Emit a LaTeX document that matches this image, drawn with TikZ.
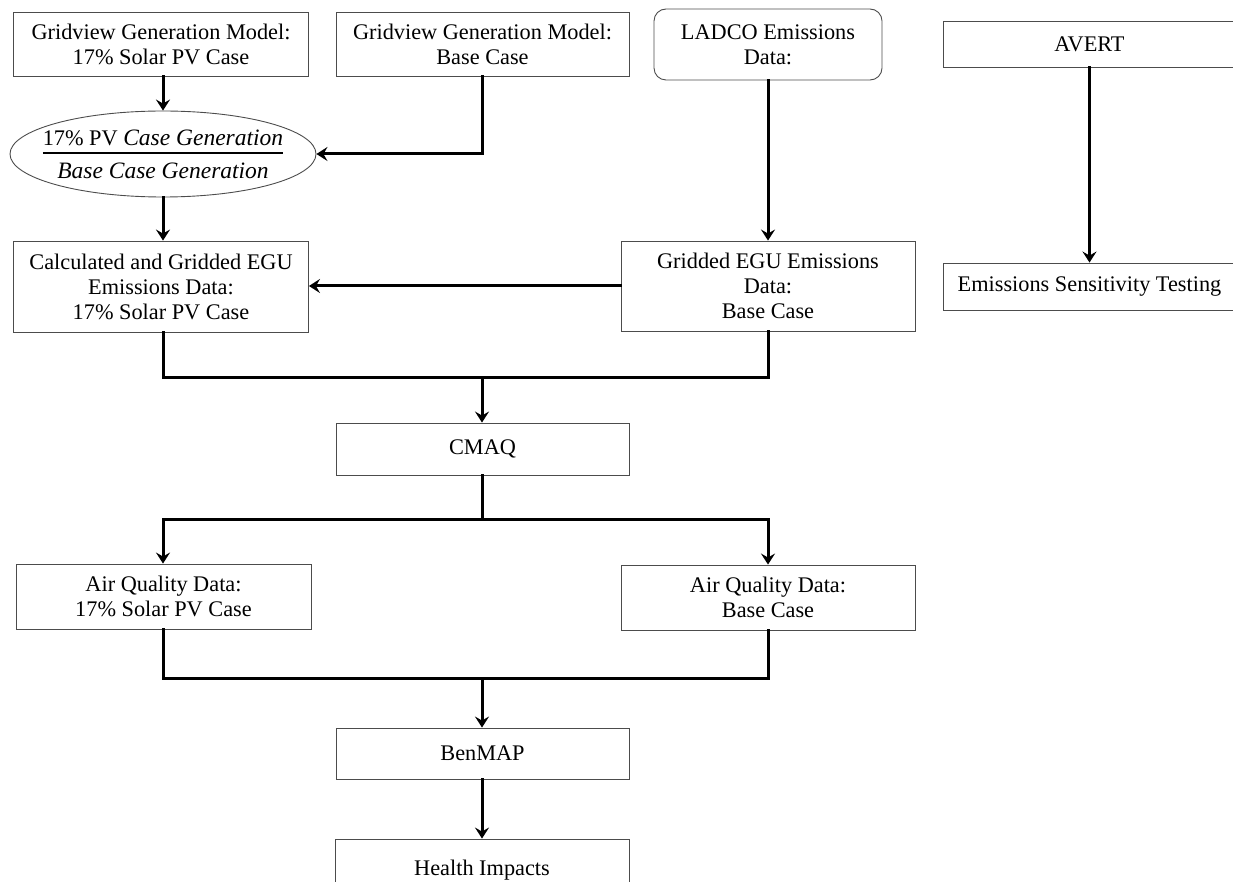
\documentclass[tikz,border=0pt]{standalone}
\usepackage{fontspec}
\setmainfont{Liberation Serif}
\usetikzlibrary{arrows.meta,shapes.geometric}
\newcommand{\bigit}[1]{{\fontsize{23.5}{26}\selectfont\itshape #1}}
\begin{document}
\begin{tikzpicture}[x=1pt,y=-1pt,
  every node/.style={font=\fontsize{22.3}{25}\selectfont, align=center, inner sep=0pt},
  box/.style={draw=black!70, line width=0.9pt, rectangle},
  conn/.style={line width=3pt, line cap=rect},
  arr/.style={conn, -{Stealth[length=11pt,width=14pt,inset=4pt]}}
]
\useasboundingbox (0,0) rectangle (1233,882);
\clip (0,0) rectangle (1233,882);
% nodes
\node[box, minimum width=295pt, minimum height=64pt] (g17) at (161,44) {Gridview Generation Model:\\17\% Solar PV Case};
\node[box, minimum width=293pt, minimum height=64pt] (gbase) at (482.5,44) {Gridview Generation Model:\\Base Case};
\node[box, rounded corners=12pt, minimum width=228pt, minimum height=71pt] (ladco) at (768,44.5) {LADCO Emissions\\Data:};
\node[box, minimum width=293pt, minimum height=46pt] (avert) at (1089.5,44) {AVERT};
\node[box, minimum width=293pt, minimum height=47pt] (est) at (1089.5,286.5) {Emissions Sensitivity Testing};
\node[draw=black!70, line width=0.9pt, ellipse, minimum width=306pt, minimum height=86pt] (ratio) at (163,154) {};
\node (ratiotext) at ([yshift=-3pt]ratio.center) {%
  \setlength{\arrayrulewidth}{1.8pt}%
  \begin{tabular}{@{}c@{}}17\% PV \bigit{Case Generation}\\[-1pt]\hline\rule{0pt}{24pt}\bigit{Base Case Generation}\end{tabular}};
\node[box, minimum width=295pt, minimum height=91pt] (calc) at (161,286.5) {Calculated and Gridded EGU\\Emissions Data:\\17\% Solar PV Case};
\node[box, minimum width=294pt, minimum height=90pt] (grid) at (768,286) {Gridded EGU Emissions\\Data:\\Base Case};
\node[box, minimum width=293pt, minimum height=52pt] (cmaq) at (482.5,449) {CMAQ};
\node[box, minimum width=295pt, minimum height=65pt] (aq17) at (163.5,596.5) {Air Quality Data:\\17\% Solar PV Case};
\node[box, minimum width=294pt, minimum height=65pt] (aqbase) at (768,597.5) {Air Quality Data:\\Base Case};
\node[box, minimum width=293pt, minimum height=51pt] (benmap) at (482.5,753.5) {BenMAP};
\node[box, minimum width=294pt, minimum height=58pt, text depth=0pt] (health) at (482,868) {Health Impacts};
% coordinates for junctions
\coordinate (j1) at (482,377);
\coordinate (j2) at (482,519);
\coordinate (j3) at (482,678);
% connectors
\draw[arr] (g17.south -| ratio.north) -- (ratio.north);
\draw[arr] (gbase.south) |- (ratio.east);
\draw[arr] (ratio.south) -- (ratio.south |- calc.north);
\draw[arr] (ladco.south) -- (grid.north);
\draw[arr] (grid.west) -- (calc.east |- grid.west);
\draw[conn] (calc.south -| ratio.south) |- (j1) -| (grid.south);
\draw[arr] (j1) -- (cmaq.north -| j1);
\draw[conn] (cmaq.south -| j1) -- (j2);
\draw[arr] (j2) -| (aq17.north -| ratio.south);
\draw[arr] (j2) -| (aqbase.north);
\draw[conn] (aq17.south -| ratio.south) |- (j3) -| (aqbase.south);
\draw[arr] (j3) -- (benmap.north -| j3);
\draw[arr] (benmap.south -| j3) -- (health.north -| j3);
\draw[arr] (avert.south) -- (est.north);
\end{tikzpicture}
\end{document}
